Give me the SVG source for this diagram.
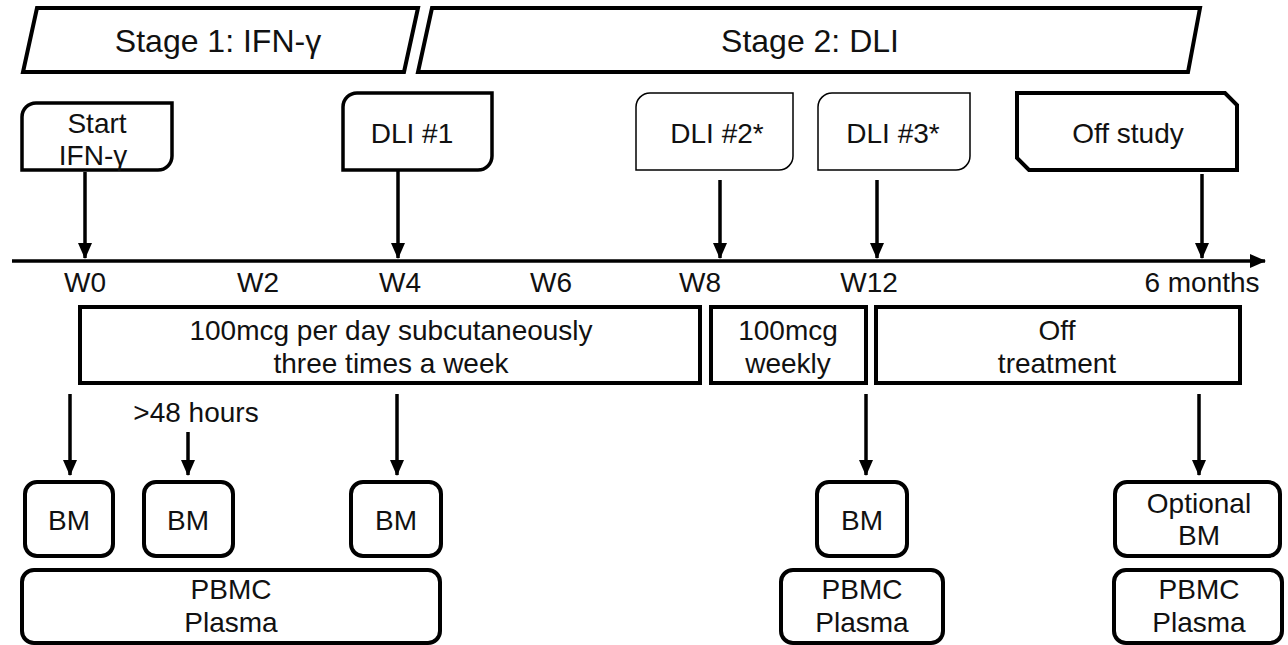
<svg xmlns="http://www.w3.org/2000/svg" width="1288" height="645" viewBox="0 0 1288 645">
<style>
.thick{fill:#fff;stroke:#000;stroke-width:4;stroke-linejoin:miter}
.thin{fill:#fff;stroke:#000;stroke-width:1.5}
.rnd{fill:#fff;stroke:#000;stroke-width:4}
.t{font-family:"Liberation Sans",Arial,sans-serif;font-size:28px;fill:#111;text-anchor:middle}
.big{font-size:32px}
.c{stroke:#000;stroke-width:3.5;fill:none}
</style>
<defs>
<marker id="ah" markerUnits="userSpaceOnUse" markerWidth="16" markerHeight="14" refX="15" refY="7" orient="auto" viewBox="0 0 16 14">
<path d="M0,0 L16,7 L0,14 Z" fill="#000"/>
</marker>
</defs>

<g id="stage1">
<path class="thick" d="M37,8 H418 L404,72 H23 Z"/>
<text class="t big" x="218" y="52">Stage 1: IFN-γ</text>
</g>
<g id="stage2">
<path class="thick" d="M432,8 H1200 L1188,72 H418 Z"/>
<text class="t big" x="810" y="52">Stage 2: DLI</text>
</g>

<g id="start">
<path class="thick" style="stroke-width:3.5" d="M36,103 H172 V156 A14,14 0 0 1 158,170 H22 V117 A14,14 0 0 1 36,103 Z"/>
<text class="t" x="97" y="133">Start</text>
<text class="t" x="93" y="165">IFN-γ</text>
</g>
<g id="dli1">
<path class="thick" style="stroke-width:3.5" d="M357,93 H492 V156 A14,14 0 0 1 478,170 H343 V107 A14,14 0 0 1 357,93 Z"/>
<text class="t" x="412" y="143">DLI #1</text>
</g>
<g id="dli2">
<path class="thin" d="M650,93 H793 V156 A14,14 0 0 1 779,170 H636 V107 A14,14 0 0 1 650,93 Z"/>
<text class="t" x="717" y="143">DLI #2*</text>
</g>
<g id="dli3">
<path class="thin" d="M832,93 H970 V156 A14,14 0 0 1 956,170 H818 V107 A14,14 0 0 1 832,93 Z"/>
<text class="t" x="893" y="143">DLI #3*</text>
</g>
<g id="offstudy">
<path class="thick" d="M1017,93 H1225 L1237,105 V170 H1029 L1017,158 Z"/>
<text class="t" x="1128" y="143">Off study</text>
</g>

<g id="timeline-labels">
<text class="t" x="85" y="292">W0</text>
<text class="t" x="258" y="292">W2</text>
<text class="t" x="400" y="292">W4</text>
<text class="t" x="551" y="292">W6</text>
<text class="t" x="700" y="292">W8</text>
<text class="t" x="869" y="292">W12</text>
<text class="t" x="1202" y="292">6 months</text>
</g>

<g id="tx1">
<rect class="thick" x="80" y="307" width="620" height="76"/>
<text class="t" x="391" y="340">100mcg per day subcutaneously</text>
<text class="t" x="391" y="373">three times a week</text>
</g>
<g id="tx2">
<rect class="thick" x="711" y="307" width="155" height="76"/>
<text class="t" x="788" y="340">100mcg</text>
<text class="t" x="788" y="373">weekly</text>
</g>
<g id="tx3">
<rect class="thick" x="876" y="307" width="364" height="76"/>
<text class="t" x="1057" y="340">Off</text>
<text class="t" x="1057" y="373">treatment</text>
</g>

<text class="t" x="196" y="422">&gt;48 hours</text>

<g id="bm1"><rect class="rnd" x="25" y="482" width="88" height="74" rx="12"/><text class="t" x="69" y="530">BM</text></g>
<g id="bm2"><rect class="rnd" x="144" y="482" width="89" height="74" rx="12"/><text class="t" x="188" y="530">BM</text></g>
<g id="bm3"><rect class="rnd" x="351" y="482" width="90" height="74" rx="12"/><text class="t" x="396" y="530">BM</text></g>
<g id="bm4"><rect class="rnd" x="817" y="482" width="90" height="74" rx="12"/><text class="t" x="862" y="530">BM</text></g>
<g id="bm5"><rect class="rnd" x="1115" y="482" width="165" height="74" rx="12"/><text class="t" x="1199" y="513">Optional</text><text class="t" x="1199" y="545">BM</text></g>
<g id="pp1"><rect class="rnd" x="22" y="570" width="418" height="73" rx="12"/><text class="t" x="231" y="599">PBMC</text><text class="t" x="231" y="632">Plasma</text></g>
<g id="pp2"><rect class="rnd" x="781" y="570" width="162" height="73" rx="12"/><text class="t" x="862" y="599">PBMC</text><text class="t" x="862" y="632">Plasma</text></g>
<g id="pp3"><rect class="rnd" x="1114" y="570" width="168" height="73" rx="12"/><text class="t" x="1199" y="599">PBMC</text><text class="t" x="1199" y="632">Plasma</text></g>

<g id="connectors">
<line class="c" x1="12" y1="261" x2="1265" y2="261" marker-end="url(#ah)"/>
<line class="c" x1="85" y1="172" x2="85" y2="258" marker-end="url(#ah)"/>
<line class="c" x1="398" y1="171" x2="398" y2="258" marker-end="url(#ah)"/>
<line class="c" x1="720" y1="180" x2="720" y2="258" marker-end="url(#ah)"/>
<line class="c" x1="877" y1="180" x2="877" y2="258" marker-end="url(#ah)"/>
<line class="c" x1="1202" y1="174" x2="1202" y2="258" marker-end="url(#ah)"/>
<line class="c" x1="70" y1="394" x2="70" y2="475" marker-end="url(#ah)"/>
<line class="c" x1="188" y1="432" x2="188" y2="475" marker-end="url(#ah)"/>
<line class="c" x1="397" y1="394" x2="397" y2="475" marker-end="url(#ah)"/>
<line class="c" x1="866" y1="394" x2="866" y2="475" marker-end="url(#ah)"/>
<line class="c" x1="1199" y1="394" x2="1199" y2="475" marker-end="url(#ah)"/>
</g>
</svg>
